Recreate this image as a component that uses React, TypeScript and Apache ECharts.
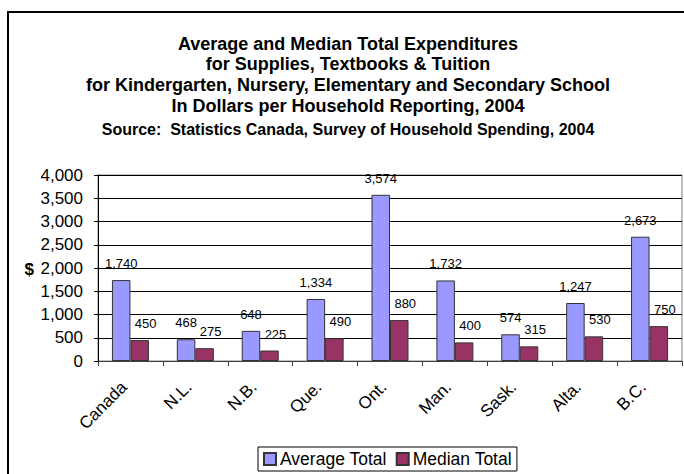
import React, { useEffect, useRef } from "react";
import * as echarts from "echarts";

const categories = ["Canada", "N.L.", "N.B.", "Que.", "Ont.", "Man.", "Sask.", "Alta.", "B.C."];
const averageTotal = [1740, 468, 648, 1334, 3574, 1732, 574, 1247, 2673];
const medianTotal = [450, 275, 225, 490, 880, 400, 315, 530, 750];
const seriesNames = ["Average Total", "Median Total"];
const titleLines = [
  "Average and Median Total Expenditures",
  "for Supplies, Textbooks & Tuition",
  "for Kindergarten, Nursery, Elementary and Secondary School",
  "In Dollars per Household Reporting, 2004",
];
const sourceLine = "Source:  Statistics Canada, Survey of Household Spending, 2004";

const FONT = '"Liberation Sans", Arial, sans-serif';
const fmt = (v: number) => v.toLocaleString("en-US");

export default function App() {
  const ref = useRef<HTMLDivElement>(null);
  useEffect(() => {
    if (!ref.current) return;
    const chart = echarts.init(ref.current, null, { renderer: "svg" });
    const titleY = [44, 64, 85, 106];
    const graphics: any[] = [
      {
        type: "rect",
        shape: { x: 8, y: 12, width: 700, height: 500 },
        style: { fill: "none", stroke: "#000", lineWidth: 2 },
        silent: true,
      },
      ...titleLines.map((t, i) => ({
        type: "text",
        x: 348,
        y: titleY[i],
        style: {
          text: t,
          align: "center",
          verticalAlign: "middle",
          fontSize: 18,
          fontWeight: "bold",
          fontFamily: FONT,
          fill: "#000",
        },
      })),
      {
        type: "text",
        x: 348,
        y: 129,
        style: {
          text: sourceLine,
          align: "center",
          verticalAlign: "middle",
          fontSize: 16,
          fontWeight: "bold",
          fontFamily: FONT,
          fill: "#000",
        },
      },
      {
        type: "text",
        x: 34,
        y: 269,
        style: {
          text: "$",
          align: "right",
          verticalAlign: "middle",
          fontSize: 17,
          fontWeight: "bold",
          fontFamily: FONT,
          fill: "#000",
        },
      },
    ];
    chart.setOption({
      animation: false,
      backgroundColor: "#fff",
      graphic: graphics,
      grid: {
        left: 98,
        top: 175,
        right: 2,
        bottom: 113,
        show: true,
        borderColor: "#808080",
        borderWidth: 1,
        containLabel: false,
      },
      legend: {
        data: seriesNames,
        left: 258,
        top: 447,
        itemWidth: 12,
        itemHeight: 12,
        itemGap: 9,
        padding: [3, 5],
        borderColor: "#000",
        borderWidth: 1,
        textStyle: { fontSize: 17.5, fontFamily: FONT, color: "#000", padding: [0, 0, 0, -1] },
        icon: "rect",
      },
      xAxis: {
        type: "category",
        data: categories,
        axisLine: { lineStyle: { color: "#404040", width: 1 } },
        axisTick: { show: true, length: 5, lineStyle: { color: "#404040" } },
        axisLabel: {
          rotate: 45,
          fontSize: 17,
          fontFamily: FONT,
          color: "#000",
          margin: 17,
          padding: [0, 9, 0, 0],
          interval: 0,
        },
      },
      yAxis: {
        type: "value",
        min: 0,
        max: 4000,
        interval: 500,
        axisLine: { show: true, lineStyle: { color: "#000", width: 1 } },
        axisTick: { show: true, length: 4, lineStyle: { color: "#000" } },
        axisLabel: {
          fontSize: 17,
          fontFamily: FONT,
          color: "#000",
          margin: 15,
          formatter: (v: number) => fmt(v),
        },
        splitLine: { show: true, lineStyle: { color: "#000", width: 1 } },
      },
      series: [
        {
          name: seriesNames[0],
          type: "bar",
          data: averageTotal,
          barWidth: 18.5,
          barGap: "0%",
          itemStyle: { color: "#9999FF", borderColor: "#333", borderWidth: 1 },
          label: {
            show: true,
            position: "top",
            distance: 10,
            fontSize: 13,
            fontFamily: FONT,
            color: "#000",
            formatter: (p: any) => fmt(p.value),
          },
        },
        {
          name: seriesNames[1],
          type: "bar",
          data: medianTotal,
          barWidth: 18.5,
          barGap: "0%",
          itemStyle: { color: "#993366", borderColor: "#333", borderWidth: 1 },
          label: {
            show: true,
            position: "top",
            distance: 10,
            offset: [6, 0],
            fontSize: 13,
            fontFamily: FONT,
            color: "#000",
            formatter: (p: any) => fmt(p.value),
          },
        },
      ],
    });
    return () => chart.dispose();
  }, []);
  return (
    <div
      ref={ref}
      style={{ position: "fixed", left: 0, top: 0, width: 684, height: 474, background: "#fff" }}
    />
  );
}
